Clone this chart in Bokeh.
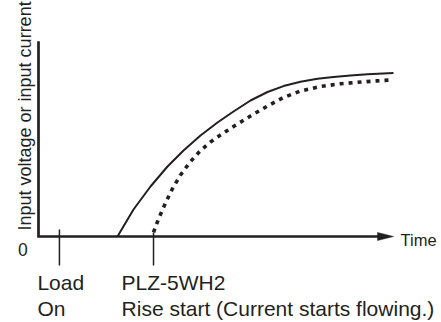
from bokeh.plotting import figure
from bokeh.models import Range1d
from bokeh.core.properties import value
from bokeh.embed import file_html
from bokeh.resources import INLINE

# ---- data (time units along x, relative level along y) ----
solid_t = [2.225, 2.676, 3.155, 3.634, 4.085, 4.563, 5.042, 5.493, 5.972, 6.451, 6.901,
           7.380, 7.859, 8.310, 8.789, 9.268, 10.0]
solid_v = [0.0, 16.46, 30.49, 42.68, 52.44, 61.59, 69.51, 76.22, 82.93, 88.11, 91.71,
           94.39, 96.16, 97.32, 98.23, 98.96, 99.76]

dotted_t = [3.239, 3.380, 3.577, 3.775, 4.000, 4.282, 4.563, 4.845, 5.127, 5.493, 5.972,
            6.451, 6.901, 7.380, 7.944, 8.507, 8.986, 9.521, 10.0]
dotted_v = [2.44, 10.67, 20.43, 29.27, 37.50, 45.73, 52.44, 57.62, 61.89, 67.07, 73.48,
            79.57, 84.76, 88.72, 91.46, 93.11, 94.02, 94.88, 95.55]

x_axis_end = 10.0
y_axis_top = 119.0
load_on_t = 0.59
rise_start_t = 3.24

y_label = "Input voltage or input current"
x_label = "Time"
zero_label = "0"
load_lines = ["Load", "On"]
plz_lines = ["PLZ-5WH2", "Rise start (Current starts flowing.)"]

INK = "#231f20"
FONT = value("Liberation Sans")

# pixel scales used only to size decorations
PX_X = 35.5
PX_Y = 1.64

p = figure(width=441, height=322, output_backend="svg", toolbar_location=None,
           x_range=Range1d(-1.0704, 11.352), y_range=Range1d(-52.44, 143.90),
           x_axis_location=None, y_axis_location=None, min_border=0)
p.outline_line_color = None
p.xgrid.visible = False
p.ygrid.visible = False
p.background_fill_color = "white"
p.border_fill_color = "white"

# axes
head_len = 16 / PX_X
head_half = 4 / PX_Y
p.line([0, 0, x_axis_end - head_len * 0.5], [y_axis_top, 0, 0], line_color=INK,
       line_width=2.7, line_join="miter")
p.patch([x_axis_end, x_axis_end - head_len, x_axis_end - head_len],
        [0, head_half, -head_half], fill_color=INK, line_color=INK, line_width=0.5)

# event ticks
p.segment(x0=[load_on_t, rise_start_t], y0=[4.3, 2.4], x1=[load_on_t, rise_start_t],
          y1=[-17.7, -17.7], line_color=INK, line_width=1.5)

# curves
p.line(solid_t, solid_v, line_color=INK, line_width=2.0, line_join="round")
p.line(dotted_t, dotted_v, line_color=INK, line_width=3.6, line_dash="4 5", line_cap="butt")

# texts
p.text(x=[-0.437], y=[-8.0], text=[zero_label], text_font=FONT, text_font_size="17.5px",
       text_color=INK, text_align="center", text_baseline="middle")
p.text(x=[10.2], y=[-2.0], text=[x_label], text_font=FONT, text_font_size="16.5px",
       text_color=INK, text_align="left", text_baseline="middle")
p.text(x=[-0.38], y=[3.66], text=[y_label], angle=1.5707963, text_font=FONT,
       text_font_size="18px", text_color=INK, text_align="left", text_baseline="alphabetic")
p.text(x=[-0.03, -0.03], y=[-28.0, -43.9], text=load_lines, text_font=FONT,
       text_font_size="21px", text_color=INK, text_align="left", text_baseline="middle")
p.text(x=[2.34, 2.34], y=[-28.0, -43.9], text=plz_lines, text_font=FONT,
       text_font_size="21px", text_color=INK, text_align="left", text_baseline="middle")

open("out.html", "w").write(file_html(p, INLINE))
